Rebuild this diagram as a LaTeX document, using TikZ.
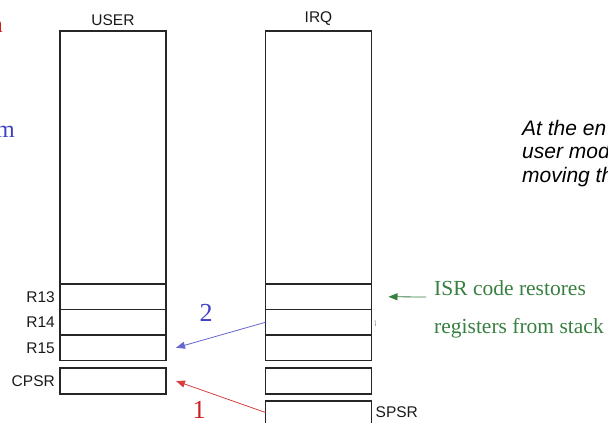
\documentclass[tikz,border=0pt]{standalone}
\usepackage{fontspec}
\setmainfont{Liberation Sans}
\newfontfamily\timesfont{Liberation Serif}
\usetikzlibrary{positioning,arrows.meta}
\definecolor{isrgreen}{RGB}{56,128,64}
\definecolor{twoblue}{RGB}{64,64,200}
\definecolor{onered}{RGB}{205,30,30}
\def\frameBox{(0,0) rectangle (608,423)}
\def\regWidth{106pt}
\def\rowHeight{25.5pt}

\begin{document}
\begin{tikzpicture}[x=1pt,y=-1pt,
  reg/.style={draw=black!85,line width=1.9pt,inner sep=0pt,outer sep=0pt,minimum width=\regWidth},
  lbl/.style={inner sep=0pt,font=\fontsize{15.5}{17}\selectfont,text=black!90},
  num/.style={inner sep=0pt,font=\timesfont\fontsize{26}{28}\selectfont},
  note/.style={inner sep=0pt,anchor=base west,text=isrgreen,font=\timesfont\fontsize{21.5}{24}\selectfont},
  endnote/.style={inner sep=0pt,anchor=base west,font=\itshape\fontsize{21}{24}\selectfont},
  tip/.style={-{Triangle[length=9pt,width=7pt]}}]
\useasboundingbox \frameBox;
\clip \frameBox;
\node[reg,minimum height=253pt] (ubig) at (113,157.5) {};
\node[reg,minimum height=\rowHeight] (u13) at (113,296.75) {};
\node[reg,minimum height=\rowHeight] (u14) at (113,322.25) {};
\node[reg,minimum height=\rowHeight] (u15) at (113,347.75) {};
\node[reg,minimum height=26pt] (cpsr) at (113,381) {};
\node[lbl,above=5pt of ubig] (user) {USER};
\node[lbl,left=5pt of u13] (r13) {R13};
\node[lbl,left=5pt of u14] (r14) {R14};
\node[lbl,left=5pt of u15] (r15) {R15};
\node[lbl,left=5pt of cpsr] (cpsrlbl) {CPSR};
\node[reg,minimum height=253pt] (ibig) at (318.5,157.5) {};
\node[reg,minimum height=\rowHeight] (i13) at (318.5,296.75) {};
\node[reg,minimum height=\rowHeight] (i14) at (318.5,322.25) {};
\node[reg,minimum height=\rowHeight] (i15) at (318.5,347.75) {};
\node[reg,minimum height=26pt] (icpsr) at (318.5,381) {};
\node[reg,minimum height=23pt] (spsr) at (318.5,412.5) {};
\node[lbl,above=5pt of ibig] (irq) {IRQ};
\node[lbl,right=4pt of spsr] (spsrlbl) {SPSR};
\draw[tip,twoblue!80,line width=0.8pt] (i14.west) -- ([xshift=10pt]u15.east);
\draw[tip,onered!85,line width=0.8pt] (spsr.west) -- ([xshift=10pt]cpsr.east);
\node[num,text=twoblue] (two) at (206,313) {2};
\node[num,text=onered] (one) at (199,410) {1};
\coordinate (gtail) at (426,297);
\draw[tip,isrgreen,line width=0.8pt] (gtail) -- ([xshift=17pt]i13.east);
\node[note] (isr1) at (434,295) {ISR code restores};
\node[note] (isr2) at (434,333) {registers from stack};
\node[endnote] (end1) at (522,135) {At the en};
\node[endnote] (end2) at (522,158.5) {user mod};
\node[endnote] (end3) at (522,182) {moving th};
\node[anchor=base east,inner sep=0pt,text=onered,font=\timesfont\fontsize{24}{26}\selectfont] (leftn) at (3,32) {n};
\node[anchor=base east,inner sep=0pt,text=twoblue,font=\timesfont\fontsize{24}{26}\selectfont] (leftm) at (15,137) {m};
\draw[black!35,line width=0.8pt] (375,320) -- (375.5,326);
\end{tikzpicture}
\end{document}
